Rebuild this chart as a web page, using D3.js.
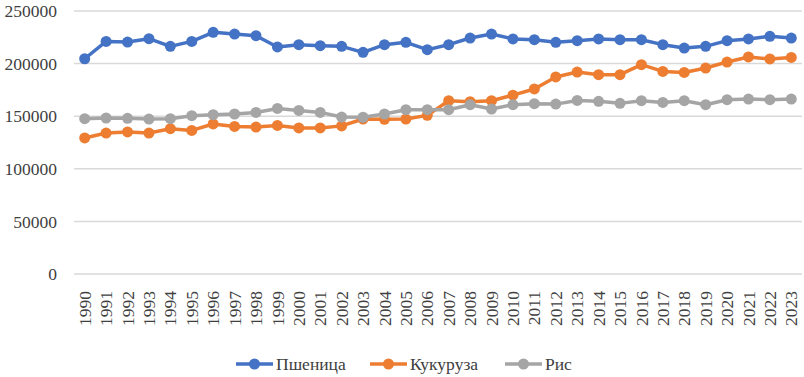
<!DOCTYPE html>
<html>
<head>
<meta charset="utf-8">
<script src="https://cdn.jsdelivr.net/npm/d3@7"></script>
<style>
  body { margin: 0; background: #fff; }
</style>
</head>
<body>
<div id="chart"></div>
<script>
// Years (categories)
var years = d3.range(1990, 2024).map(String);

// Series values
var wheat = [204600, 221100, 220500, 223700, 216400, 221100, 229700, 228100, 226500, 215800,
             218000, 217000, 216400, 210700, 218000, 220200, 213200, 218000, 224300, 228100,
             223400, 222700, 220200, 221800, 223400, 222700, 222700, 218000, 214800, 216400,
             221800, 223400, 225900, 224300];
var corn  = [129300, 134000, 135000, 134000, 138100, 136500, 142600, 140300, 139700, 141200,
             138800, 138800, 140800, 147300, 147000, 147300, 150800, 164700, 163800, 164700,
             170000, 175900, 187300, 192000, 189500, 189500, 199000, 192600, 191600, 195800,
             201500, 206300, 204400, 205900];
var rice  = [147600, 148300, 148000, 147300, 147600, 150500, 151400, 152100, 153600, 157400,
             155500, 153600, 149200, 149000, 152100, 156200, 156200, 156200, 160900, 156800,
             160900, 161900, 161500, 165000, 164100, 162200, 164700, 163100, 164700, 160900,
             165700, 166300, 165700, 166300];

var seriesNames = ["Пшеница", "Кукуруза", "Рис"];
var seriesColors = ["#4472C4", "#ED7D31", "#A5A5A5"];
var yTicks = [0, 50000, 100000, 150000, 200000, 250000];

var series = [wheat, corn, rice].map(function (vals, i) {
    return { name: seriesNames[i], color: seriesColors[i], values: vals };
});

var FONT = "'Liberation Serif', 'DejaVu Serif', serif";
var W = 804, H = 377;
var margin = { top: 11, right: 2, bottom: 103, left: 74 };
var width = W - margin.left - margin.right;
var height = H - margin.top - margin.bottom;

var svg = d3.select("#chart")
    .append("svg")
    .attr("width", W)
    .attr("height", H);

var g = svg.append("g")
    .attr("transform", "translate(" + margin.left + "," + margin.top + ")");

var x = d3.scaleBand().domain(years).range([0, width]);
var y = d3.scaleLinear().domain([0, 250000]).range([height, 0]);

// Gridlines
g.append("g")
    .selectAll("line")
    .data(yTicks)
    .join("line")
    .attr("x1", 0)
    .attr("x2", width)
    .attr("y1", function (d) { return y(d); })
    .attr("y2", function (d) { return y(d); })
    .attr("stroke", "#d9d9d9")
    .attr("stroke-width", 1.5);

// Y axis labels
var yAxis = g.append("g")
    .call(d3.axisLeft(y).tickValues(yTicks).tickFormat(d3.format("d")).tickSize(0).tickPadding(17));
yAxis.attr("font-family", FONT).attr("font-size", 17.5);
yAxis.select(".domain").remove();
yAxis.selectAll("text")
    .attr("fill", "#404040");

// X axis labels (rotated)
var xAxis = g.append("g")
    .attr("transform", "translate(0," + height + ")")
    .call(d3.axisBottom(x).tickSize(0));
xAxis.attr("font-family", FONT).attr("font-size", 17.5);
xAxis.select(".domain").remove();
xAxis.selectAll("text")
    .attr("fill", "#404040")
    .attr("text-anchor", "end")
    .attr("dy", "0.35em")
    .attr("transform", "translate(0,17) rotate(-90)")
    .attr("x", 0)
    .attr("y", 0);

var line = d3.line()
    .x(function (d, i) { return x(years[i]) + x.bandwidth() / 2; })
    .y(function (d) { return y(d); });

series.forEach(function (s) {
    var sg = g.append("g");
    sg.append("path")
        .datum(s.values)
        .attr("fill", "none")
        .attr("stroke", s.color)
        .attr("stroke-width", 3.5)
        .attr("stroke-linejoin", "round")
        .attr("d", line);
    sg.selectAll("circle")
        .data(s.values)
        .join("circle")
        .attr("cx", function (d, i) { return x(years[i]) + x.bandwidth() / 2; })
        .attr("cy", function (d) { return y(d); })
        .attr("r", 5.5)
        .attr("fill", s.color);
});

// Legend
var legendX = [236, 370, 505];
var legend = svg.append("g")
    .attr("transform", "translate(0,364)")
    .attr("font-family", FONT)
    .attr("font-size", 17.5);
series.forEach(function (s, i) {
    var lg = legend.append("g").attr("transform", "translate(" + legendX[i] + ",0)");
    lg.append("line")
        .attr("x1", 0).attr("x2", 37)
        .attr("y1", 0).attr("y2", 0)
        .attr("stroke", s.color)
        .attr("stroke-width", 3.5);
    lg.append("circle")
        .attr("cx", 18.5).attr("cy", 0).attr("r", 5.5)
        .attr("fill", s.color);
    lg.append("text")
        .attr("x", 40)
        .attr("y", 0)
        .attr("dy", "0.35em")
        .attr("fill", "#404040")
        .text(s.name);
});
</script>
</body>
</html>
